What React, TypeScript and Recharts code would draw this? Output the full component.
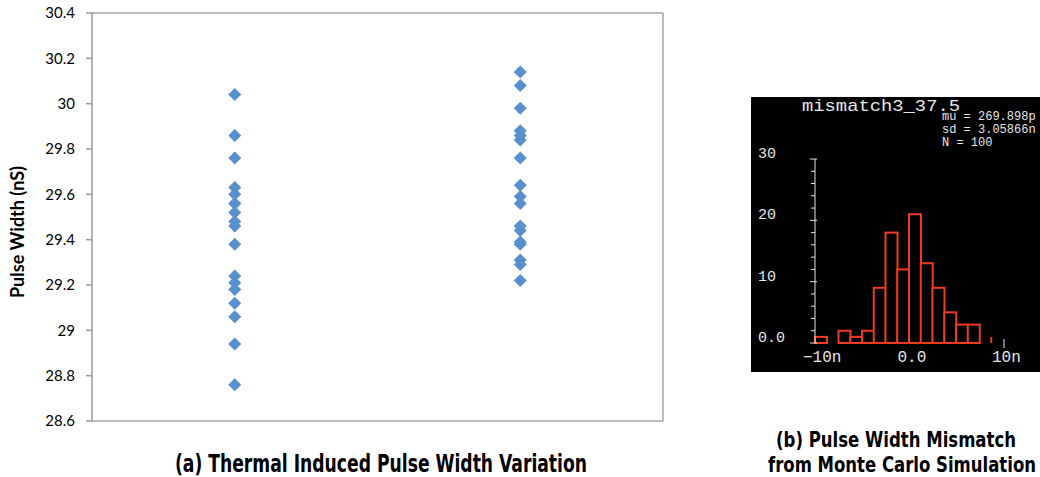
import React from 'react';
import { ScatterChart, Scatter, XAxis, YAxis, CartesianGrid, ComposedChart, Bar } from 'recharts';

// ---------- Left chart data ----------
const categories = ['Run 1', 'Run 2'];
const pulseWidthRun1 = [30.04, 29.86, 29.76, 29.63, 29.6, 29.56, 29.56, 29.52, 29.48, 29.46, 29.38, 29.24, 29.21, 29.18, 29.12, 29.06, 28.94, 28.76];
const pulseWidthRun2 = [30.14, 30.08, 29.98, 29.88, 29.86, 29.84, 29.76, 29.64, 29.59, 29.56, 29.46, 29.44, 29.39, 29.38, 29.31, 29.29, 29.22];
const yTicks = [28.6, 28.8, 29, 29.2, 29.4, 29.6, 29.8, 30, 30.2, 30.4];

// ---------- Right chart (histogram) data ----------
const binCenters = [-9.38, -8.13, -6.89, -5.64, -4.40, -3.16, -1.91, -0.67, 0.58, 1.82, 3.06, 4.31, 5.55, 6.80, 8.04, 9.28];
const binCounts = [1, 0, 2, 1, 2, 9, 18, 12, 21, 13, 9, 5, 3, 3, 0, 1];
const histYTicks = [0, 2, 4, 6, 8, 10, 12, 14, 16, 18, 20, 22, 24, 26, 28, 30];
const histYLabels: Record<number, string> = { 0: '0.0', 10: '10', 20: '20', 30: '30' };
const histXTicks = [-10, 0, 10];
const histXLabels: Record<number, string> = { [-10]: '\u221210n', 0: '0.0', 10: '10n' };
const histTitle = 'mismatch3_37.5';
const histStats = ['mu = 269.898p', 'sd = 3.05866n', 'N = 100'];

const run1Data = pulseWidthRun1.map((y) => ({ x: 1, y, cat: categories[0] }));
const run2Data = pulseWidthRun2.map((y) => ({ x: 2, y, cat: categories[1] }));
const histData = binCenters.map((c, i) => ({ bin: String(c), ns: c, count: binCounts[i] }));

const BLUE = '#5790CD';
const GRID = '#A6A6A6';
const RED = '#F03A22';
const WHITE = '#E6E6E6';
const MONO = "'Liberation Mono', 'DejaVu Sans Mono', monospace";
const CAPTION = "'Liberation Sans Narrow', 'DejaVu Sans Condensed', 'DejaVu Sans', sans-serif";

const Diamond = (props: any) => {
  const { cx, cy } = props;
  const r = 6.5;
  return <polygon points={`${cx},${cy - r} ${cx + r},${cy} ${cx},${cy + r} ${cx - r},${cy}`} fill={BLUE} />;
};

const YLabel = (props: any) => {
  const vb = props.viewBox;
  const x = vb.x - 8;
  const y = vb.y + vb.height / 2 + 15;
  return (
    <text x={x} y={y} transform={`rotate(-90 ${x} ${y})`} textAnchor="middle" fontFamily="Lato, 'Open Sans', sans-serif" fontWeight="bold" fontSize={18} fill="#000" textLength={132} lengthAdjust="spacingAndGlyphs">
      Pulse Width (nS)
    </text>
  );
};

const HistYTick = (props: any) => {
  const { x, y, payload } = props;
  const v = payload.value;
  const major = v % 10 === 0;
  return (
    <g>
      <line x1={major ? x - 5 : x - 4} x2={major ? x + 2 : x} y1={y} y2={y} stroke={WHITE} strokeWidth={1} />
      {histYLabels[v] !== undefined && (
        <text x={x - 57} y={y - 1} textAnchor="start" fontFamily={MONO} fontSize={15} fill={WHITE}>
          {histYLabels[v]}
        </text>
      )}
    </g>
  );
};

const HistBinTick = (props: any) => {
  const { x, y, payload } = props;
  const ex = x - (payload.offset || 0);
  return <line x1={ex} x2={ex} y1={y} y2={y + 4} stroke={WHITE} strokeWidth={1} />;
};

const HistLabelTick = (props: any) => {
  const { x, y, payload } = props;
  const v = payload.value;
  return (
    <g>
      {v === 10 && <line x1={x} x2={x} y1={y - 4} y2={y + 5} stroke={WHITE} strokeWidth={1} />}
      <text x={x - 12} y={y + 19} textAnchor="start" fontFamily={MONO} fontSize={16} fill={WHITE}>
        {histXLabels[v]}
      </text>
    </g>
  );
};

const HistBar = (props: any) => {
  const { x, y, width, height, index } = props;
  if (!height || height <= 0) return null;
  if (index === binCounts.length - 1) {
    return <line x1={x} x2={x} y1={y} y2={y + height} stroke={RED} strokeWidth={2} />;
  }
  return <rect x={x} y={y} width={width} height={height} fill="#000" stroke={RED} strokeWidth={2} />;
};

const Caption = ({ x, y, size, width, sy, text }: { x: number; y: number; size: number; width: number; sy: number; text: string }) => (
  <g transform={`translate(${x} ${y}) scale(1 ${sy})`}>
    <text x={0} y={0} fontFamily={CAPTION} fontWeight="bold" fontSize={size} fill="#000" textLength={width} lengthAdjust="spacingAndGlyphs">
      {text}
    </text>
  </g>
);

export default function App() {
  return (
    <div style={{ position: 'absolute', left: 0, top: 0, width: 1040, height: 477, background: '#fff', overflow: 'hidden' }}>
      <div style={{ position: 'absolute', left: 0, top: 0 }}>
        <ScatterChart width={680} height={477} margin={{ top: 13, right: 16, bottom: 56, left: 32 }}>
          <CartesianGrid horizontal vertical={false} stroke={GRID} strokeWidth={1.5} />
          <XAxis type="number" dataKey="x" domain={[0.5, 2.5]} ticks={[]} tick={false} tickLine={false} axisLine={{ stroke: '#999', strokeWidth: 1.5 }} height={0} />
          <YAxis
            yAxisId="l"
            type="number"
            dataKey="y"
            domain={[28.6, 30.4]}
            ticks={yTicks}
            interval={0}
            width={60}
            tickSize={6}
            tickMargin={11}
            tick={{ fontFamily: "Lato, 'Open Sans', sans-serif", fontSize: 15, fill: '#000' }}
            axisLine={{ stroke: '#999', strokeWidth: 1.5 }}
            tickLine={{ stroke: '#999', strokeWidth: 1.5 }}
            label={<YLabel />}
          />
          <YAxis yAxisId="r" orientation="right" type="number" domain={[28.6, 30.4]} ticks={[]} tick={false} tickLine={false} width={1} axisLine={{ stroke: GRID, strokeWidth: 1.5 }} />
          <Scatter yAxisId="l" data={run1Data} shape={<Diamond />} isAnimationActive={false} />
          <Scatter yAxisId="l" data={run2Data} shape={<Diamond />} isAnimationActive={false} />
        </ScatterChart>
      </div>

      <div style={{ position: 'absolute', left: 751, top: 97, width: 289, height: 275, background: '#000' }}>
        <ComposedChart width={289} height={275} data={histData} margin={{ top: 62, right: 37, bottom: 1, left: 24 }} barCategoryGap={0} barGap={0}>
          <XAxis xAxisId="bins" dataKey="bin" type="category" height={0} tickSize={0} tickMargin={0} interval={0} tickLine={false} axisLine={{ stroke: WHITE, strokeWidth: 1 }} tick={<HistBinTick />} />
          <XAxis xAxisId="ns" dataKey="ns" type="number" domain={[-10, 9.9]} allowDataOverflow ticks={histXTicks} interval={0} height={28} tickSize={0} tickMargin={0} tickLine={false} axisLine={false} tick={<HistLabelTick />} />
          <YAxis type="number" domain={[0, 30]} ticks={histYTicks} interval={0} width={40} tickSize={0} tickMargin={0} tickLine={false} axisLine={{ stroke: WHITE, strokeWidth: 1 }} tick={<HistYTick />} />
          <Bar xAxisId="bins" dataKey="count" shape={<HistBar />} isAnimationActive={false} />
        </ComposedChart>
        <svg width={289} height={275} style={{ position: 'absolute', left: 0, top: 0, pointerEvents: 'none' }}>
          <text x={51} y={14} fontFamily={MONO} fontSize={17} fill={WHITE} textLength={158} lengthAdjust="spacingAndGlyphs">
            {histTitle}
          </text>
          {histStats.map((s, i) => (
            <text key={s} x={191} y={23 + i * 13} fontFamily={MONO} fontSize={12} fill={WHITE}>
              {s}
            </text>
          ))}
        </svg>
      </div>

      <svg width={1040} height={477} style={{ position: 'absolute', left: 0, top: 0, pointerEvents: 'none' }}>
        <Caption x={175} y={472} size={17.5} sy={1.42} width={412} text="(a) Thermal Induced Pulse Width Variation" />
        <Caption x={776} y={447} size={16.5} sy={1.3} width={240} text="(b) Pulse Width Mismatch" />
        <Caption x={768} y={472} size={16.5} sy={1.3} width={268} text="from Monte Carlo Simulation" />
      </svg>
    </div>
  );
}
